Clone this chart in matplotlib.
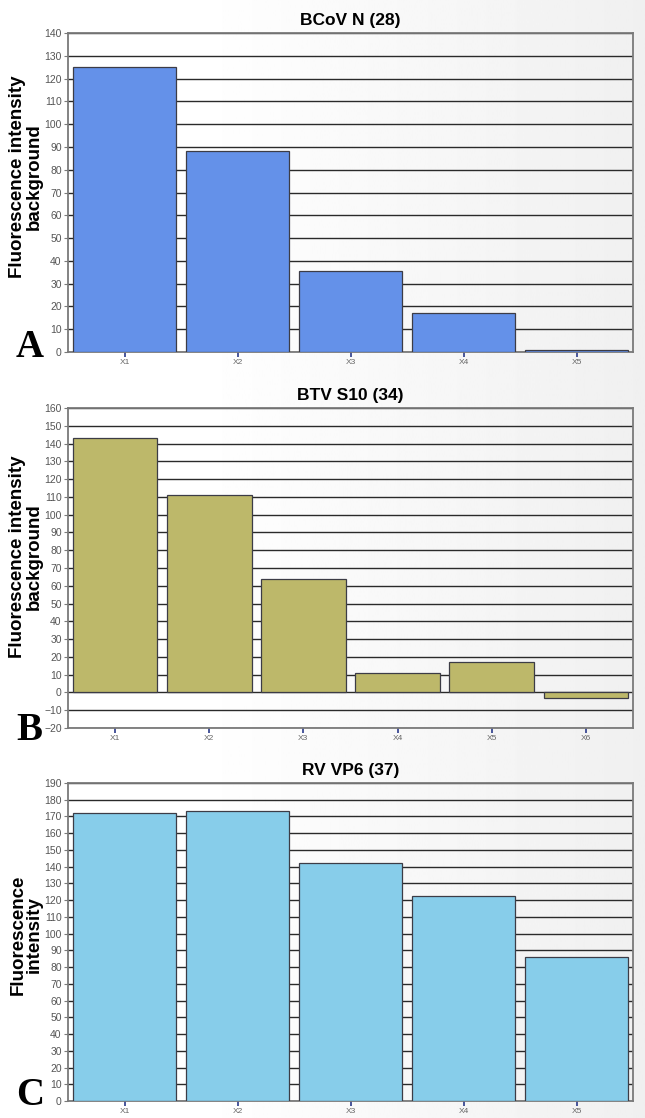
import matplotlib.pyplot as plt
import numpy as np

W, H = 645, 1118

# panel data
titres = ["BCoV N (28)", "BTV S10 (34)", "RV VP6 (37)"]
etiquettes_y = ["Fluorescence intensity\nbackground",
                "Fluorescence intensity\nbackground",
                "Fluorescence\nintensity"]
lettres = ["A", "B", "C"]

cat_a = ["X1", "X2", "X3", "X4", "X5"]
val_a = [125, 88, 35.5, 17, 1]

cat_b = ["X1", "X2", "X3", "X4", "X5", "X6"]
val_b = [143, 111, 64, 11, 17, -3]

cat_c = ["X1", "X2", "X3", "X4", "X5"]
val_c = [172, 173, 142, 122.5, 86]

couleurs = ["#6491E9", "#BDB86A", "#87CDEA"]
limites = [(0, 140), (-20, 160), (0, 190)]

# axes boxes in pixels: left, top, right, bottom
boites = [(68, 33, 633, 352), (68, 408, 633, 728), (68, 783, 633, 1101)]
centres_label = [177, 557, 935]
bases_lettre = [357, 740, 1105]


def px(x0, y0, x1, y1):
    return [x0 / W, 1 - y1 / H, (x1 - x0) / W, (y1 - y0) / H]


fig = plt.figure(figsize=(W / 100, H / 100), dpi=100)

# fond en degrade blanc -> gris clair
fond = fig.add_axes([0, 0, 1, 1], zorder=-10)
xs = np.linspace(0, 1, 400)
g = 1.0 - 0.06 * np.clip((xs - 0.3) / 0.7, 0, 1)
fond.imshow(np.tile(g, (2, 1)), cmap="gray", vmin=0, vmax=1,
            aspect="auto", extent=[0, 1, 0, 1])
fond.axis("off")

donnees = [(cat_a, val_a), (cat_b, val_b), (cat_c, val_c)]
largeurs = [0.91, 0.9, 0.91]
police_ticks = ["Liberation Sans Narrow", "Liberation Sans"]

for i, (cats, vals) in enumerate(donnees):
    ax = fig.add_axes(px(*boites[i]))
    ax.set_facecolor("none")
    x = np.arange(len(cats))
    ax.bar(x, vals, width=largeurs[i], color=couleurs[i],
           edgecolor="#3c3c46", linewidth=0.9, zorder=3)
    ax.set_xlim(-0.5, len(cats) - 0.5)
    lo, hi = limites[i]
    ax.set_ylim(lo, hi)
    ax.set_yticks(np.arange(lo, hi + 1, 10))
    ax.yaxis.grid(True, color="#2a2a2a", linewidth=1.0)
    ax.set_axisbelow(True)
    ax.set_xticks(x)
    ax.set_xticklabels(cats)
    for s in ax.spines.values():
        s.set_color("#7a7a7a")
        s.set_linewidth(1.3)
    ax.tick_params(axis="y", length=3, width=0.8, color="#7a7a7a",
                   labelsize=7.5, labelcolor="#555555", pad=1.5)
    ax.tick_params(axis="x", length=3.5, width=1.2, color="#2a3a8a",
                   labelsize=6, labelcolor="#666666", pad=1.5)
    for t in ax.get_yticklabels() + ax.get_xticklabels():
        t.set_family(police_ticks)
    ax.set_title(titres[i], fontsize=12.5, fontweight="bold",
                 family="Liberation Sans", pad=6)

    fig.text(26 / W, 1 - centres_label[i] / H, etiquettes_y[i],
             rotation=90, ha="center", va="center", ma="center",
             fontsize=13.5, fontweight="bold", family="Liberation Sans",
             linespacing=0.95)
    fig.text(16 / W, 1 - bases_lettre[i] / H, lettres[i],
             ha="left", va="baseline", fontsize=28, fontweight="bold",
             family="Liberation Serif")

fig.savefig("out.png", dpi=100)
